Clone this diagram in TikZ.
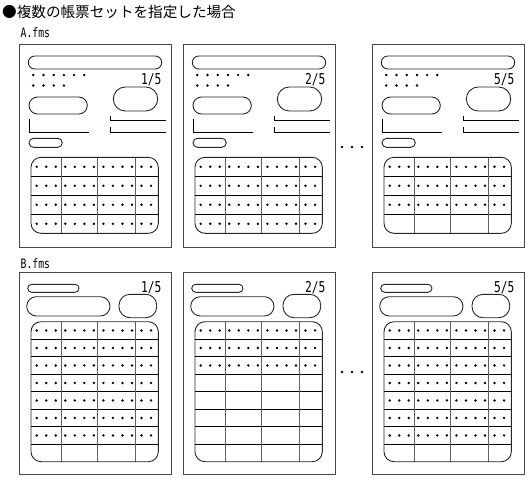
\documentclass[tikz,border=0pt]{standalone}
\usepackage{fontspec}
\newfontfamily\jpfont{Noto Sans CJK JP}
\newfontfamily\narrowmono[FakeStretch=0.75]{DejaVu Sans Mono}
\tikzset{
  frm/.style={draw=black!72, line width=0.9pt},
  shp/.style={draw=black!85, line width=0.9pt},
  hln/.style={draw=black, line width=0.9pt},
  vln/.style={draw=black!62, line width=0.9pt},
  lbl/.style={font=\narrowmono\fontsize{13}{13}\selectfont, inner sep=0pt, anchor=base west},
  pgn/.style={font=\narrowmono\fontsize{15}{15}\selectfont, inner sep=0pt, anchor=base east},
  ttl/.style={font=\jpfont\fontsize{14.6}{14.6}\selectfont, inner sep=0pt, anchor=west},
}
% table: #1 left, #2 right, #3 top, #4 row height, #5 rows, #6 rows-1, #7 dotted rows
\newcommand\formtable[7]{%
  \foreach \r in {1,...,#6} \draw[hln] (#1,#3+#4*\r) -- (#2,#3+#4*\r);
  \foreach \c in {30.7,66.3,104} \draw[vln] (#1+\c,#3) -- (#1+\c,#3+#4*#5);
  \foreach \r in {1,...,#7}
    \foreach \k in {0,...,12} \fill (#1+5.7+9.53*\k,#3+#4*\r-#4/2) circle (1.35);
  \draw[shp,rounded corners=10] (#1,#3) rectangle (#2,#3+#4*#5);
}
% A page: #1 x0, #2 page text, #3 dotted rows, #4 name
\newcommand\apage[4]{%
  \begin{scope}[shift={(#1,0)}]
    \draw[frm] (0,44) rectangle (152,247);
    \draw[shp,rounded corners=6.5] (9.3,56) rectangle (142.7,69);
    \foreach \k in {0,...,5} \fill (14.3+10.2*\k,75) circle (1.35);
    \foreach \k in {0,...,3} \fill (14.3+10.2*\k,85.5) circle (1.35);
    \node[pgn] (#4) at (142.7,84) {#2};
    \draw[shp,rounded corners=8.5] (10,97) rectangle (68.3,114);
    \draw[shp,rounded corners=12] (94.3,87) rectangle (138.7,111);
    \draw[hln] (10,119.3) -- (10,132.3) -- (70.3,132.3);
    \draw[hln] (91,116) -- (91,120.3) -- (146.7,120.3);
    \draw[hln] (91,127.3) -- (91,132) -- (146.7,132);
    \draw[shp,rounded corners=4.5] (10,138.3) rectangle (43.3,147.3);
    \formtable{12}{139.3}{157.3}{19}{4}{3}{#3}
  \end{scope}}
% B page
\newcommand\bpage[4]{%
  \begin{scope}[shift={(#1,0)}]
    \draw[frm] (0,272) rectangle (152,474.5);
    \draw[shp,rounded corners=4] (8.7,284.3) rectangle (60,292.3);
    \node[pgn] (#4) at (142.7,292) {#2};
    \draw[shp,rounded corners=9.6] (7.7,296.7) rectangle (91,316);
    \draw[shp,rounded corners=11] (100,294.3) rectangle (137.7,317.7);
    \formtable{12}{139.3}{321.7}{17.5}{8}{7}{#3}
  \end{scope}}
\begin{document}
\begin{tikzpicture}[x=1pt,y=-1pt]
  \useasboundingbox (0,0) rectangle (527,477);
  \node[ttl] (title) at (2,12) {●複数の帳票セットを指定した場合};
  \node[lbl] (la) at (20.5,37.7) {A.fms};
  \node[lbl] (lb) at (20.5,268.5) {B.fms};
  \apage{19}{1/5}{4}{a1}
  \apage{183}{2/5}{4}{a2}
  \apage{372}{5/5}{3}{a5}
  \bpage{19}{1/5}{7}{b1}
  \bpage{183}{2/5}{3}{b2}
  \bpage{372}{5/5}{7}{b5}
  \foreach \x in {342,352,362} {
    \fill (\x,147) circle (1.35);
    \fill (\x,372) circle (1.35);
  }
\end{tikzpicture}
\end{document}
